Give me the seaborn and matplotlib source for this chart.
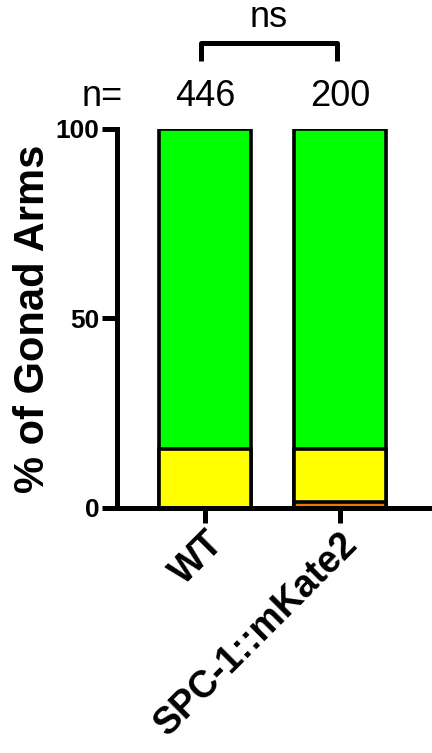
import numpy as np
import pandas as pd
import matplotlib.pyplot as plt
import seaborn as sns

# -----------------------------
# dados
genotipos = ['WT', 'SPC-1::mKate2']
n_bracos = [446, 200]
categorias = ['orange', 'yellow', 'green']
pct_laranja = [0.0, 1.5]
pct_amarelo = [15.5, 14.0]
pct_verde = [84.5, 84.5]
cores = {'orange': '#E87A00', 'yellow': '#FFFF00', 'green': '#00FF00'}

# -----------------------------
# tabela cumulativa para barras empilhadas
df = pd.DataFrame({'Genotipo': genotipos,
                   'orange': pct_laranja,
                   'yellow': pct_amarelo,
                   'green': pct_verde})
df['cum_orange'] = df['orange']
df['cum_yellow'] = df['cum_orange'] + df['yellow']
df['cum_green'] = df['cum_yellow'] + df['green']

sns.set_style("ticks")
plt.rcParams['font.family'] = ['Liberation Sans', 'DejaVu Sans']
plt.rcParams.update({'text.color': 'black', 'axes.labelcolor': 'black',
                     'xtick.color': 'black', 'ytick.color': 'black',
                     'axes.edgecolor': 'black'})

fig = plt.figure(figsize=(4.32, 7.53), dpi=100)
ax = fig.add_axes([0.271, 0.3254, 0.729, 0.5033])

# desenhar da camada mais alta para a mais baixa
for cat in ['green', 'yellow', 'orange']:
    sns.barplot(data=df, x='Genotipo', y='cum_' + cat, color=cores[cat],
                width=0.68, edgecolor='black', linewidth=2.6,
                saturation=1, ax=ax, zorder=2)

ax.set_ylim(0, 100)
ax.set_xlim(-0.65, 1.68)
ax.set_yticks([0, 50, 100])
ax.set_yticklabels(['0', '50', '100'], fontsize=19, fontweight='bold')
ax.set_xticks([0, 1])
ax.set_xticklabels(genotipos, rotation=45, ha='right', rotation_mode='anchor',
                   fontsize=27, fontweight='bold')
ax.set_xlabel('')
ax.set_ylabel('% of Gonad Arms', fontsize=30, fontweight='bold', labelpad=2)

sns.despine(ax=ax)
for s in ['left', 'bottom']:
    ax.spines[s].set_linewidth(3.6)
    ax.spines[s].set_color('black')
    ax.spines[s].set_zorder(5)
ax.tick_params(axis='both', width=3.6, length=10.5, pad=2, colors='black')

# -----------------------------
# n e significância
ax.text(-0.76, 108.5, 'n=', fontsize=26, ha='center', va='center', clip_on=False)
for i, n in enumerate(n_bracos):
    ax.text(i, 108.5, str(n), fontsize=26, ha='center', va='center', clip_on=False)

ax.plot([-0.03, -0.03, 0.98, 0.98], [118.0, 122.7, 122.7, 118.0],
        color='black', lw=3.6, clip_on=False, solid_capstyle='butt')
ax.text(0.475, 129.5, 'ns', fontsize=26, ha='center', va='center', clip_on=False)

fig.savefig('out.png', dpi=100)
